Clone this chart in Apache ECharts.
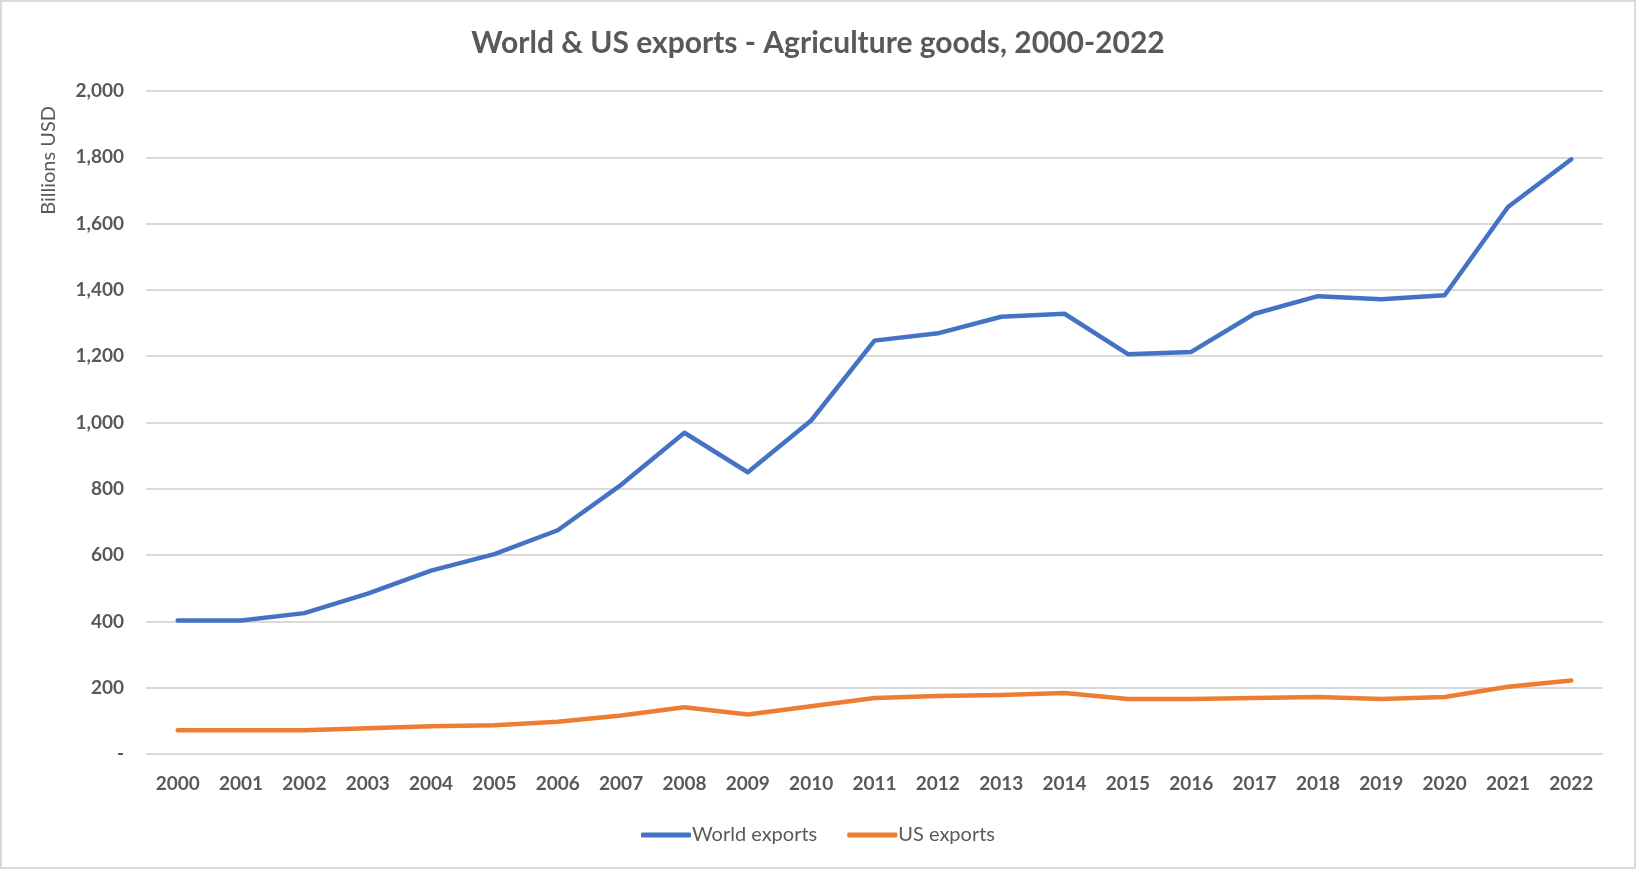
<!DOCTYPE html>
<html>
<head>
<meta charset="utf-8">
<script src="https://cdn.jsdelivr.net/npm/echarts@6/dist/echarts.min.js"></script>
<style>
  html, body { margin: 0; padding: 0; background: #fff; }
  #main { width: 1636px; height: 869px; box-sizing: border-box; border: 2px solid #d9d9d9; }
</style>
</head>
<body>
<div id="main"></div>
<script>
// data
var years = ["2000", "2001", "2002", "2003", "2004", "2005", "2006", "2007", "2008", "2009", "2010",
  "2011", "2012", "2013", "2014", "2015", "2016", "2017", "2018", "2019", "2020", "2021", "2022"];
var worldExports = [403, 403, 425, 484, 553, 603, 675, 812, 969, 850, 1006,
  1247, 1269, 1319, 1328, 1206, 1213, 1328, 1381, 1372, 1384, 1650, 1794];
var usExports = [72, 72, 72, 78, 84, 87, 97, 116, 141, 119, 144,
  169, 175, 178, 184, 166, 166, 169, 172, 166, 172, 203, 222];

var chart = echarts.init(document.getElementById("main"));
var grey = "#595959";
var font = "Lato, 'Open Sans', sans-serif";

chart.setOption({
  textStyle: { fontFamily: font },
  title: {
    text: "World & US exports - Agriculture goods, 2000-2022",
    left: "center",
    top: 21,
    textStyle: { fontFamily: font, fontSize: 30, fontWeight: "bold", color: grey }
  },
  color: ["#4472C4", "#ED7D31"],
  legend: {
    bottom: 17,
    left: "center",
    itemWidth: 50,
    itemHeight: 5,
    itemGap: 30,
    icon: "roundRect",
    textStyle: { fontFamily: font, fontSize: 20, color: grey, padding: [0, 0, 0, -4] },
    data: ["World exports", "US exports"]
  },
  grid: { left: 144, right: 31, top: 89, bottom: 113 },
  graphic: [{
    type: "text",
    left: 37,
    top: 104,
    rotation: Math.PI / 2,
    style: { text: "Billions USD", fill: grey, fontSize: 20, fontFamily: font }
  }],
  xAxis: {
    type: "category",
    data: years,
    boundaryGap: true,
    axisLine: { show: false },
    axisTick: { show: false },
    axisLabel: { color: grey, fontSize: 19, fontWeight: "bold", margin: 20 }
  },
  yAxis: {
    type: "value",
    min: 0,
    max: 2000,
    interval: 200,
    axisLine: { show: false },
    axisTick: { show: false },
    splitLine: { lineStyle: { color: "#d9d9d9", width: 2 } },
    axisLabel: {
      color: grey, fontSize: 19, fontWeight: "bold", margin: 22,
      formatter: function (v) { return v === 0 ? "-" : v.toLocaleString("en-US"); }
    }
  },
  series: [
    {
      name: "World exports",
      type: "line",
      data: worldExports,
      symbol: "none",
      lineStyle: { width: 4.5, cap: "round", join: "round" }
    },
    {
      name: "US exports",
      type: "line",
      data: usExports,
      symbol: "none",
      lineStyle: { width: 4.5, cap: "round", join: "round" }
    }
  ]
});
</script>
</body>
</html>
